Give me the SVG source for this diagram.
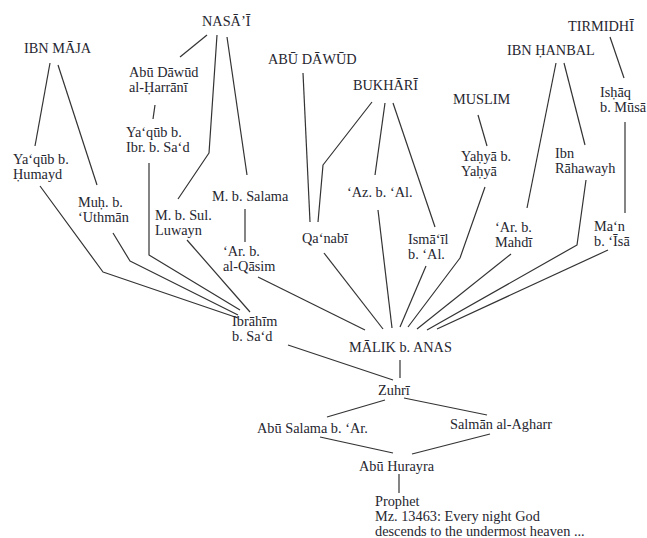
<svg xmlns="http://www.w3.org/2000/svg" width="647" height="538" viewBox="0 0 647 538">
<style>
text{font-family:"Liberation Serif","DejaVu Serif",serif;font-size:14.3px;fill:#262630}
.c polyline,.c line{fill:none;stroke:#333;stroke-width:1.2;stroke-linejoin:round}
</style>
<rect width="647" height="538" fill="#fff"/>
<g class="c" id="connectors">
<line x1="50" y1="63" x2="35" y2="146"/>
<line x1="58" y1="65" x2="97" y2="185"/>
<line x1="207" y1="35" x2="180" y2="57"/>
<polyline points="217,35 209,153 178,199"/>
<line x1="227" y1="37" x2="247" y2="175"/>
<line x1="155" y1="105" x2="153" y2="119"/>
<polyline points="149,163 149,255 240,310"/>
<polyline points="40,186 103,272 238,318"/>
<polyline points="113,233 130,261 238,315"/>
<line x1="187" y1="240" x2="250" y2="312"/>
<line x1="245" y1="209" x2="245" y2="242"/>
<line x1="258" y1="277" x2="365" y2="330"/>
<line x1="288" y1="345" x2="393" y2="380"/>
<line x1="303" y1="73" x2="310" y2="222"/>
<polyline points="372,102 323,165 318,222"/>
<line x1="385" y1="103" x2="375" y2="175"/>
<line x1="393" y1="103" x2="435" y2="227"/>
<line x1="324" y1="253" x2="383" y2="329"/>
<line x1="378" y1="210" x2="392" y2="328"/>
<line x1="426" y1="266" x2="400" y2="327"/>
<line x1="478" y1="115" x2="487" y2="146"/>
<polyline points="485,187 460,258 408,327"/>
<line x1="511" y1="254" x2="417" y2="329"/>
<line x1="556" y1="63" x2="527" y2="208"/>
<line x1="564" y1="63" x2="585" y2="145"/>
<polyline points="586,180 577,245 427,330"/>
<line x1="610" y1="37" x2="624" y2="78"/>
<line x1="625" y1="122" x2="625" y2="213"/>
<line x1="608" y1="250" x2="437" y2="329"/>
<line x1="400" y1="360" x2="400" y2="378"/>
<line x1="385" y1="400" x2="327" y2="417"/>
<line x1="404" y1="398" x2="487" y2="415"/>
<line x1="320" y1="437" x2="393" y2="453"/>
<line x1="490" y1="434" x2="412" y2="454"/>
<line x1="399" y1="474" x2="399" y2="493"/>
</g>
<g id="ibn-maja"><text x="24" y="53">IBN MĀJA</text></g>
<g id="nasai"><text x="202" y="26">NASĀ’Ī</text></g>
<g id="abu-dawud-harrani"><text x="129" y="77">Abū Dāwūd</text><text x="129" y="92">al-Ḥarrānī</text></g>
<g id="yaqub-ibr"><text x="126" y="137">Ya‘qūb b.</text><text x="126" y="152">Ibr. b. Sa‘d</text></g>
<g id="yaqub-humayd"><text x="13" y="164">Ya‘qūb b.</text><text x="13" y="179">Ḥumayd</text></g>
<g id="muh-uthman"><text x="78" y="207">Muḥ. b.</text><text x="78" y="222">‘Uthmān</text></g>
<g id="m-sul-luwayn"><text x="155" y="220">M. b. Sul.</text><text x="155" y="235">Luwayn</text></g>
<g id="m-salama"><text x="212" y="201">M. b. Salama</text></g>
<g id="ar-qasim"><text x="223" y="256">‘Ar. b.</text><text x="223" y="271">al-Qāsim</text></g>
<g id="ibrahim"><text x="232" y="326">Ibrāhīm</text><text x="232" y="341">b. Sa‘d</text></g>
<g id="abu-dawud"><text x="268" y="64">ABŪ DĀWŪD</text></g>
<g id="bukhari"><text x="353" y="90">BUKHĀRĪ</text></g>
<g id="qanabi"><text x="302" y="243">Qa‘nabī</text></g>
<g id="az-al"><text x="347" y="197">‘Az. b. ‘Al.</text></g>
<g id="ismail"><text x="408" y="244">Ismā‘īl</text><text x="408" y="259">b. ‘Al.</text></g>
<g id="muslim"><text x="453" y="104">MUSLIM</text></g>
<g id="yahya"><text x="461" y="161">Yaḥyā b.</text><text x="461" y="176">Yaḥyā</text></g>
<g id="ar-mahdi"><text x="495" y="232">‘Ar. b.</text><text x="495" y="247">Mahdī</text></g>
<g id="ibn-hanbal"><text x="507" y="55">IBN ḤANBAL</text></g>
<g id="ibn-rahawayh"><text x="555" y="158">Ibn</text><text x="555" y="173">Rāhawayh</text></g>
<g id="tirmidhi"><text x="568" y="31">TIRMIDHĪ</text></g>
<g id="ishaq"><text x="600" y="97">Isḥāq</text><text x="600" y="112">b. Mūsā</text></g>
<g id="man-isa"><text x="594" y="231">Ma‘n</text><text x="594" y="246">b. ‘Īsā</text></g>
<g id="malik"><text x="349" y="352">MĀLIK b. ANAS</text></g>
<g id="zuhri"><text x="378" y="395">Zuhrī</text></g>
<g id="abu-salama"><text x="257" y="433">Abū Salama b. ‘Ar.</text></g>
<g id="salman"><text x="450" y="429">Salmān al-Agharr</text></g>
<g id="abu-hurayra"><text x="359" y="471">Abū Hurayra</text></g>
<g id="prophet"><text x="375" y="506">Prophet</text><text x="375" y="521">Mz. 13463: Every night God</text><text x="375" y="536">descends to the undermost heaven ...</text></g>
</svg>
